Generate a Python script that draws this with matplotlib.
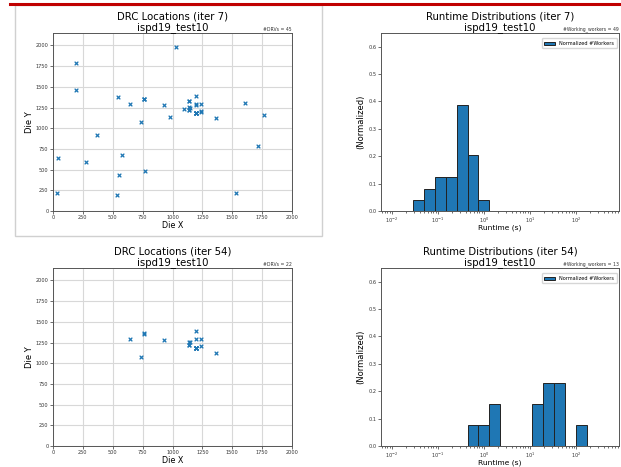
import numpy as np
import matplotlib.pyplot as plt
from matplotlib.lines import Line2D
from matplotlib.patches import Rectangle

# DRC locations, iter 7 (45 DRVs, some overlap)
drc7_x = [36, 45, 190, 190, 277, 372, 534, 553, 578, 545, 642, 737, 760, 762, 768,
          927, 978, 1031, 1095, 1142, 1142, 1142, 1144, 1193, 1193, 1193, 1195, 1197,
          1235, 1235, 1363, 1531, 1606, 1715, 1765, 1193, 1195, 1142, 760, 1193, 1235,
          1193, 1142, 1196, 1194]
drc7_y = [214, 645, 1786, 1464, 597, 923, 198, 431, 677, 1371, 1290, 1069, 1355, 1350, 488,
          1278, 1137, 1980, 1238, 1327, 1254, 1214, 1250, 1387, 1286, 1185, 1180, 1188,
          1294, 1202, 1121, 214, 1310, 782, 1161, 1183, 1178, 1218, 1352, 1187, 1200,
          1290, 1330, 1184, 1182]

# DRC locations, iter 54 (22 DRVs)
drc54_x = [642, 760, 762, 737, 927, 1142, 1142, 1144, 1193, 1193, 1193, 1195, 1197,
           1235, 1235, 1363, 1193, 1195, 1142, 1196, 1194, 1193]
drc54_y = [1294, 1359, 1354, 1069, 1282, 1258, 1218, 1254, 1391, 1294, 1185, 1180, 1188,
           1298, 1206, 1121, 1183, 1178, 1222, 1184, 1182, 1187]

# runtime histograms: counts per log bin (20 bins from 1e-2 to 500 s)
n_bins = 20
counts7 = [0, 0, 2, 4, 6, 6, 19, 10, 2, 0, 0, 0, 0, 0, 0, 0, 0, 0, 0, 0]
counts54 = [0, 0, 0, 0, 0, 0, 0, 1, 1, 2, 0, 0, 0, 2, 3, 3, 0, 1, 0, 0]
workers7 = 49
workers54 = 13

bins = np.logspace(-2, np.log10(500), n_bins + 1)

fig = plt.figure(figsize=(6.21, 4.67), dpi=100)

# decorations of the screenshot
fig.add_artist(Line2D([10 / 621, 1], [1 - 3.5 / 467, 1 - 3.5 / 467],
                      color="#c00000", lw=2.2, transform=fig.transFigure))
fig.add_artist(Rectangle((15 / 621, 1 - 236 / 467), (322 - 15) / 621, (236 - 5) / 467,
                         fill=False, ec="#d0d0d0", lw=1, transform=fig.transFigure))

def drc_panel(rect, xs, ys, it):
    ax = fig.add_axes(rect)
    ax.scatter(xs, ys, marker="x", s=7, lw=0.9, color="#1f77b4", zorder=3)
    ax.set_xlim(0, 2000)
    ax.set_ylim(0, 2150)
    ax.set_xticks(np.arange(0, 2001, 250))
    ax.set_yticks(np.arange(0, 2001, 250))
    ax.grid(True, color="#d8d8d8", lw=0.8)
    ax.tick_params(labelsize=3.6, length=2, width=0.5, pad=1.2, colors="#333333")
    for s in ax.spines.values():
        s.set_color("#555555")
        s.set_linewidth(0.7)
    ax.set_xlabel("Die X", fontsize=5.8, labelpad=0.3)
    ax.set_ylabel("Die Y", fontsize=6, labelpad=1)
    ax.set_title("DRC Locations (iter %d)\nispd19_test10" % it, fontsize=7.3, pad=2,
                 linespacing=1.1)
    ax.text(1.0, 1.005, "#DRVs = %d" % len(xs), transform=ax.transAxes,
            ha="right", va="bottom", fontsize=3.3, color="#333333")
    return ax

def rt_panel(rect, counts, nw, it):
    ax = fig.add_axes(rect)
    heights = np.array(counts) / nw
    ax.bar(bins[:-1], heights, width=np.diff(bins), align="edge",
           color="#1f77b4", edgecolor="#222222", lw=0.7, label="Normalized #Workers")
    ax.set_xscale("log")
    ax.set_xlim(10 ** -2.235, 10 ** 2.934)
    ax.set_ylim(0, 0.65)
    ax.set_yticks(np.arange(0, 0.61, 0.1))
    ax.tick_params(labelsize=3.6, length=2, width=0.5, pad=1.2, colors="#333333")
    ax.tick_params(which="minor", length=1.2, width=0.4)
    for s in ax.spines.values():
        s.set_color("#555555")
        s.set_linewidth(0.7)
    ax.set_xlabel("Runtime (s)", fontsize=5.4, labelpad=0)
    ax.set_ylabel("(Normalized)", fontsize=6, labelpad=2)
    ax.set_title("Runtime Distributions (iter %d)\nispd19_test10" % it, fontsize=7.3, pad=2,
                 linespacing=1.1)
    ax.text(1.0, 1.005, "#Working_workers = %d" % nw, transform=ax.transAxes,
            ha="right", va="bottom", fontsize=3.3, color="#333333")
    ax.legend(loc="upper right", bbox_to_anchor=(0.995, 0.975), fontsize=3.6,
              handlelength=2.2, handleheight=0.6, borderpad=0.5, borderaxespad=0.2,
              frameon=True, fancybox=True)
    return ax

w_l = (292 - 53) / 621
w_r = (619 - 381) / 621
h = (211 - 33) / 467
drc_panel([53 / 621, 1 - 211 / 467, w_l, h], drc7_x, drc7_y, 7)
drc_panel([53 / 621, 1 - 446 / 467, w_l, h], drc54_x, drc54_y, 54)
rt_panel([381 / 621, 1 - 211 / 467, w_r, h], counts7, workers7, 7)
rt_panel([381 / 621, 1 - 446 / 467, w_r, h], counts54, workers54, 54)

fig.savefig("out.png", dpi=100)
